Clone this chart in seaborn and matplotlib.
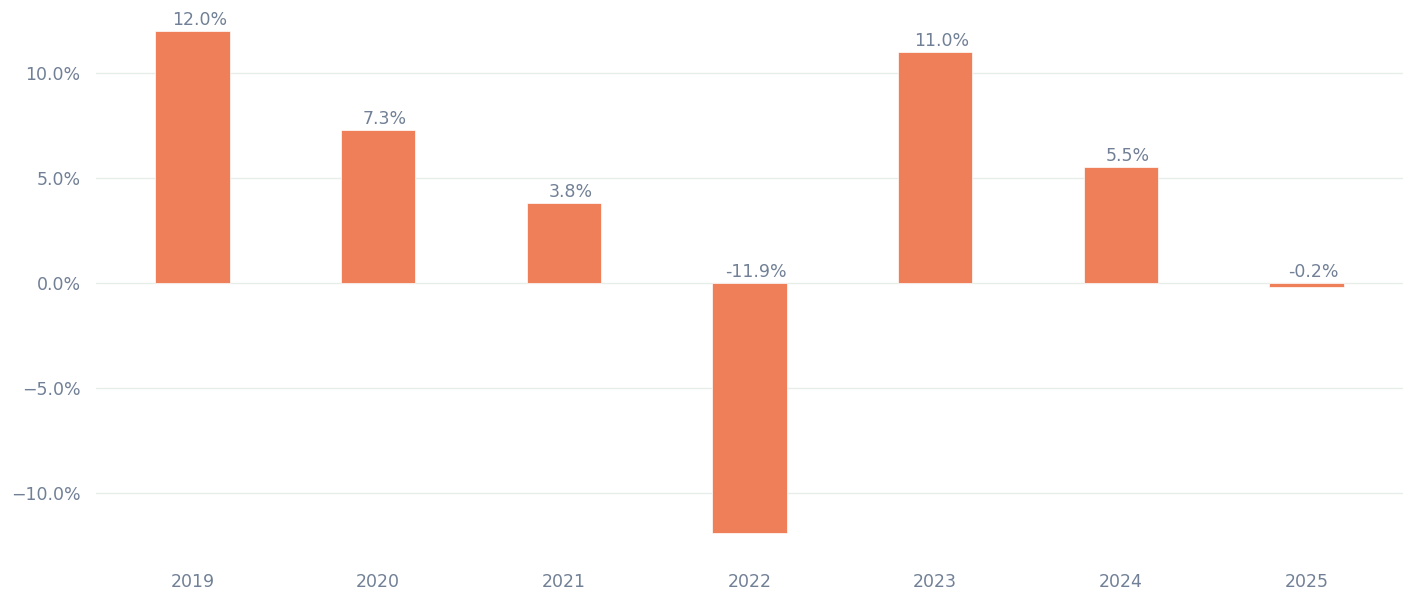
import matplotlib
matplotlib.use("Agg")
import matplotlib.pyplot as plt
import matplotlib.ticker as mtick
import seaborn as sns
import pandas as pd

# Data
years = ["2019", "2020", "2021", "2022", "2023", "2024", "2025"]
returns = [12.0, 7.3, 3.8, -11.9, 11.0, 5.5, -0.2]

bar_color = "#EE7F58"
text_color = "#718096"
grid_color = "#E6EEE8"

df = pd.DataFrame({"year": years, "ret": returns})

sns.set_style("white")
plt.rcParams["font.family"] = ["DejaVu Sans"]

fig, ax = plt.subplots(figsize=(14.1, 5.89), dpi=100)
fig.subplots_adjust(left=0.068, right=0.995, top=0.99, bottom=0.053)

sns.barplot(data=df, x="year", y="ret", color=bar_color, saturation=1,
            width=0.4, edgecolor="white", linewidth=0.5, ax=ax)

# value labels sit above the bar, or above zero for negative bars
for i, v in enumerate(returns):
    ax.annotate(f"{v:.1f}%", xy=(i, max(v, 0)), xytext=(5, 1.5),
                textcoords="offset points", ha="center", va="bottom",
                fontsize=12.5, color=text_color)

ax.set_xlim(-0.52, 6.52)
ax.set_ylim(-13.1, 13.2)
ax.yaxis.set_major_locator(mtick.MultipleLocator(5))
ax.yaxis.set_major_formatter(mtick.PercentFormatter(decimals=1))
ax.grid(axis="y", color=grid_color, linewidth=1)
ax.set_axisbelow(True)
ax.set_xlabel("")
ax.set_ylabel("")
for s in ax.spines.values():
    s.set_visible(False)
ax.tick_params(axis="both", length=0, labelsize=12.5, labelcolor=text_color)
ax.tick_params(axis="x", pad=11)
ax.tick_params(axis="y", pad=11)

fig.savefig("out.png", dpi=100)
